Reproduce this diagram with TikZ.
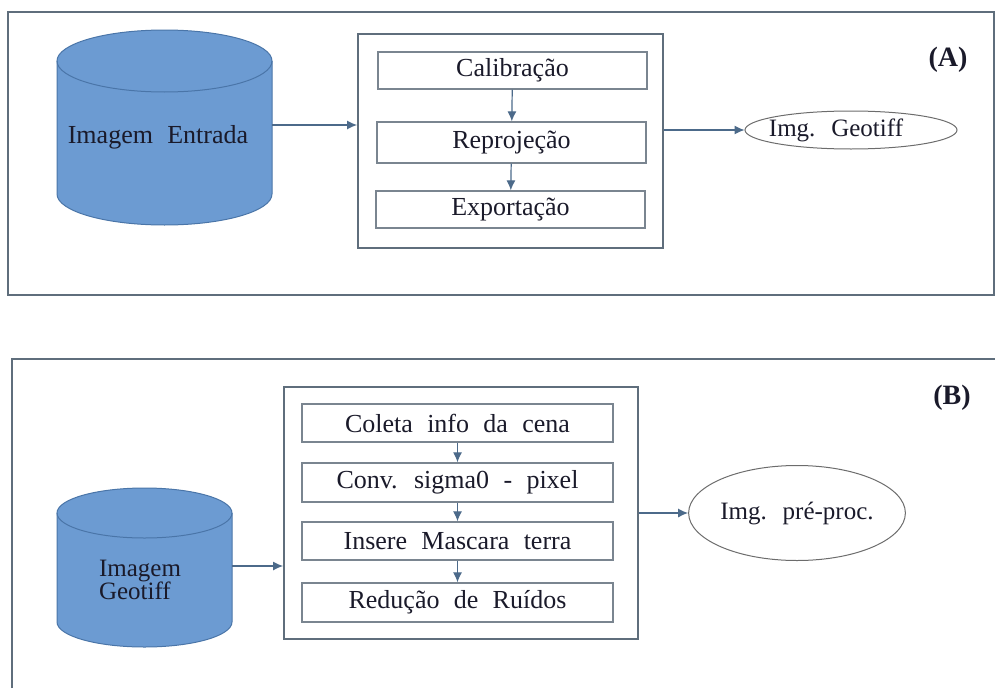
\documentclass[tikz,border=0pt]{standalone}
\usepackage{fontspec}
\setmainfont[WordSpace=2.2]{Liberation Serif}
\usetikzlibrary{shapes.geometric,arrows.meta}
\definecolor{cylfill}{HTML}{6C9BD2}
\definecolor{cyldraw}{HTML}{4A75A8}
\definecolor{frame}{HTML}{5F6E7C}
\definecolor{subframe}{HTML}{7A8590}
\definecolor{arr}{HTML}{4C6A8A}
\definecolor{txt}{HTML}{1A1A2A}
\tikzset{
  panel/.style={draw=frame, line width=2pt},
  group/.style={draw=frame, line width=1.8pt},
  stepbox/.style={draw=subframe, line width=1.3pt, minimum height=37pt, inner sep=0pt, font=\fontsize{26}{28}\selectfont, text=txt},
  conn/.style={draw=arr, line width=1.2pt, -{Latex[length=10pt,width=9pt]}},
  oval/.style={ellipse, draw=gray!85!black, line width=1pt, inner sep=0pt, font=\fontsize{25}{28}\selectfont, text=txt},
  lbl/.style={font=\fontsize{28}{30}\selectfont\bfseries, text=txt},
}
\begin{document}
\begin{tikzpicture}[x=1pt,y=-1pt]
\useasboundingbox (0,0) rectangle (995,688);
% Panel A
\draw[panel] (8,12) rectangle (994,295);
% cylinder A
\fill[cylfill] (57,61) -- (57,194) arc[start angle=180,end angle=0,x radius=107.5,y radius=31] -- (272,61) -- cycle;
\draw[cyldraw, line width=1pt, fill=cylfill] (164.5,61) ellipse[x radius=107.5, y radius=31];
\draw[cyldraw, line width=1pt] (57,61) -- (57,194) arc[start angle=180,end angle=0,x radius=107.5,y radius=31] -- (272,61);
\node[font=\fontsize{26}{28}\selectfont, text=txt] (cylA) at (158,137) {Imagem Entrada};
\coordinate (cylAr) at (272,125);
% group A
\node[group, minimum width=305pt, minimum height=214pt, inner sep=0pt] (grpA) at (510.5,141) {};
\node[stepbox, minimum width=269pt] (cal) at (512.5,70.5) {Calibração};
\node[stepbox, minimum width=269pt, minimum height=41pt] (rep) at (511.5,142.5) {Reprojeção};
\node[stepbox, minimum width=269pt] (exp) at (510.5,209.5) {Exportação};
\draw[conn] (cal) -- (rep);
\draw[conn] (rep) -- (exp);
\draw[conn] (cylAr) -- (cylAr -| grpA.west);
\node[oval, minimum width=212pt, minimum height=38pt] (geo) at (851,130) {\hspace*{-30pt}Img. Geotiff};
\draw[conn] (grpA.east |- geo) -- (geo.west);
\node[lbl] (la) at (948,60) {(A)};
% Panel B
\draw[panel] (12,688) -- (12,359) -- (995,359);
% cylinder B
\fill[cylfill] (57,513) -- (57,622) arc[start angle=180,end angle=0,x radius=87.5,y radius=25] -- (232,513) -- cycle;
\draw[cyldraw, line width=1pt, fill=cylfill] (144.5,513) ellipse[x radius=87.5, y radius=25];
\draw[cyldraw, line width=1pt] (57,513) -- (57,622) arc[start angle=180,end angle=0,x radius=87.5,y radius=25] -- (232,513);
\node[font=\fontsize{25}{23}\selectfont, text=txt, align=left] (cylB) at (140,580) {Imagem\\Geotiff};
\coordinate (cylBr) at (232,566);
% group B
\node[group, minimum width=354pt, minimum height=252pt, inner sep=0pt] (grpB) at (461,513) {};
\node[stepbox, minimum width=311pt, minimum height=38pt] (col) at (457.5,423) {Coleta info da cena};
\node[stepbox, minimum width=311pt, minimum height=39pt] (conv) at (457.5,482.5) {Conv. sigma0 - pixel};
\node[stepbox, minimum width=311pt, minimum height=38pt] (ins) at (457.5,541) {Insere Mascara terra};
\node[stepbox, minimum width=311pt, minimum height=39pt] (red) at (457.5,602.5) {Redução de Ruídos};
\draw[conn] (col) -- (conv);
\draw[conn] (conv) -- (ins);
\draw[conn] (ins) -- (red);
\draw[conn] (cylBr) -- (cylBr -| grpB.west);
\node[oval, minimum width=214pt, minimum height=95pt] (pre) at (797,513) {Img. pré-proc.};
\draw[conn] (grpB.east |- pre) -- (pre.west);
\node[lbl] (lb) at (952,398) {(B)};
\end{tikzpicture}
\end{document}
